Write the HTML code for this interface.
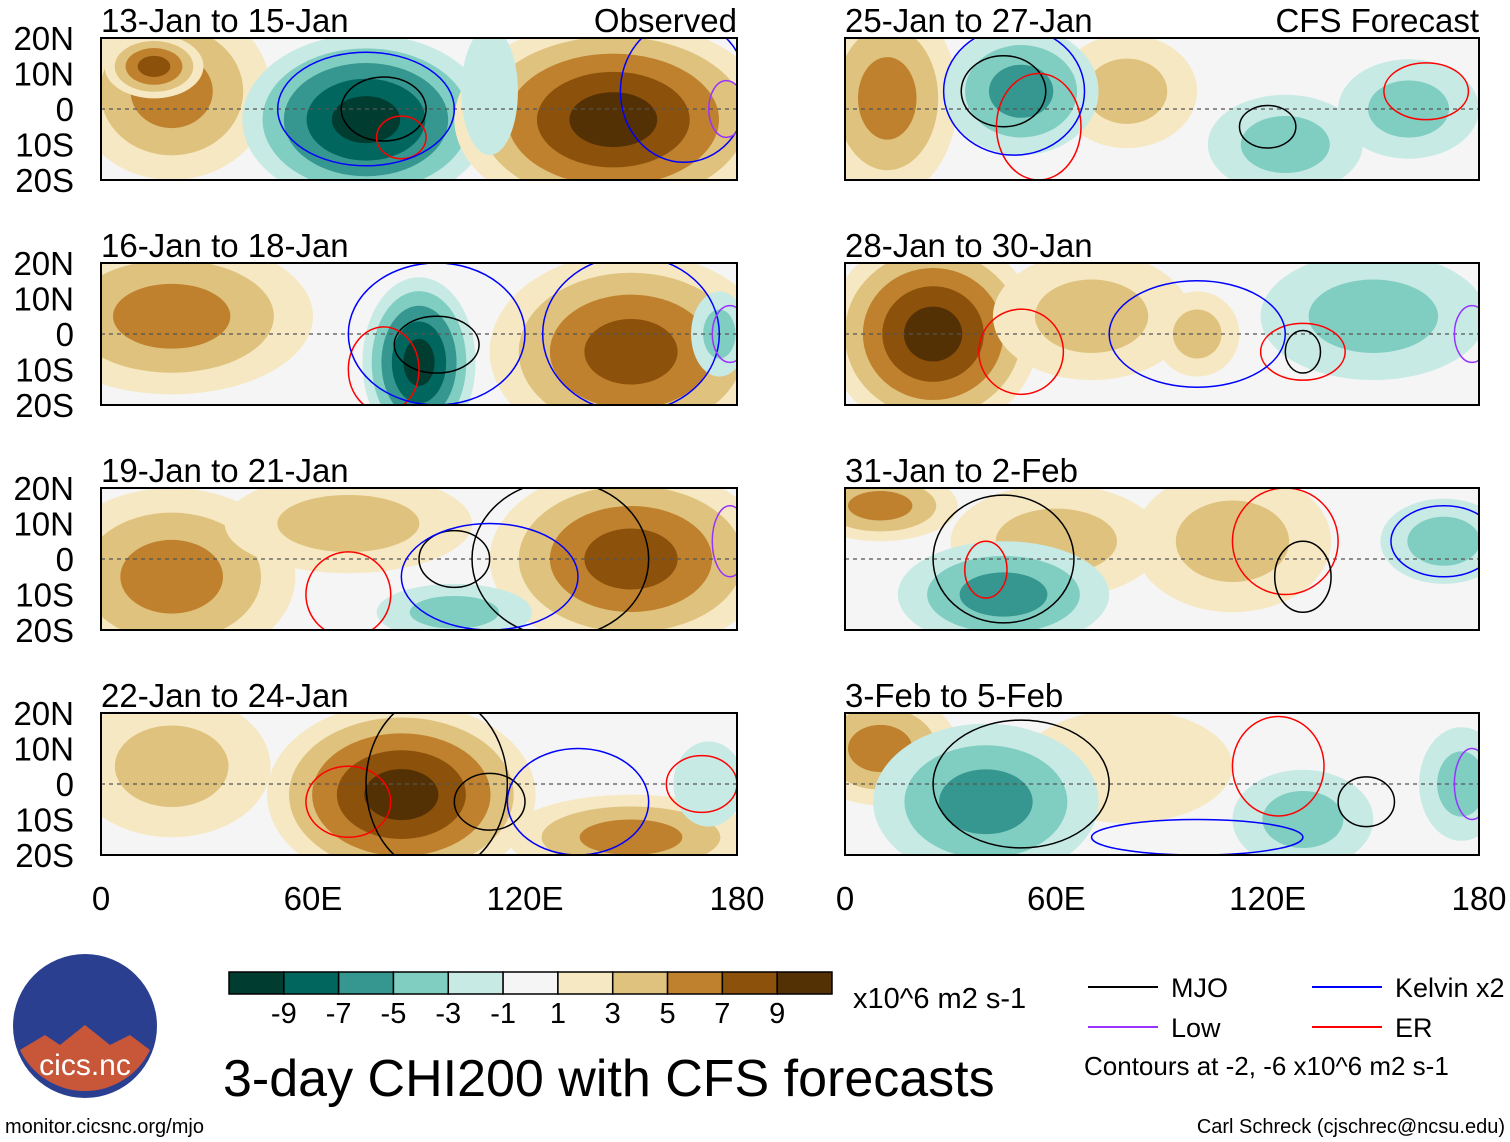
<!DOCTYPE html>
<html><head><meta charset="utf-8">
<style>
body{margin:0;background:#fff;font-family:"Liberation Sans",sans-serif;}
svg{display:block}
</style></head>
<body>
<svg id="fig" width="1510" height="1142" viewBox="0 0 1510 1142" xmlns="http://www.w3.org/2000/svg">
</svg>
<script>
const NS="http://www.w3.org/2000/svg";
const svg=document.getElementById('fig');
const levels=[-9,-7,-5,-3,-1,1,3,5,7,9];
const colors=['#003c30','#01665e','#35978f','#80cdc1','#c7eae5','#f5f5f5','#f6e8c3','#dfc27d','#bf812d','#8c510a','#543005'];
const titles=['13-Jan to 15-Jan','16-Jan to 18-Jan','19-Jan to 21-Jan','22-Jan to 24-Jan','25-Jan to 27-Jan','28-Jan to 30-Jan','31-Jan to 2-Feb','3-Feb to 5-Feb'];
const latTicks=['20N','10N','0','10S','20S'];
const lonTicks=['0','60E','120E','180'];
// blobs: [lon, lat, rx(deg), ry(deg), peak value]
const blobs=[
 [[20,5,28,25,5],[15,12,14,9,7],[75,-3,35,24,-9],[145,-3,45,28,9],[110,5,8,18,-1]],
 [[20,5,40,22,5],[150,-5,40,28,7],[90,-8,16,24,-9],[175,0,8,12,-3]],
 [[20,-5,35,25,5],[70,10,35,14,3],[150,0,40,26,7],[100,-15,22,8,-3]],
 [[20,5,28,20,3],[85,-3,38,26,9],[150,-15,35,12,5],[172,0,10,12,-1]],
 [[12,3,20,28,5],[80,5,20,16,3],[50,5,22,18,-5],[125,-10,22,14,-3],[160,0,20,14,-3]],
 [[25,0,30,28,9],[70,5,28,18,3],[100,0,12,12,3],[150,5,32,18,-3]],
 [[10,15,22,10,5],[60,5,30,16,3],[110,5,28,20,3],[45,-10,30,15,-5],[170,5,18,12,-3]],
 [[10,10,22,16,5],[80,5,30,16,1],[40,-5,32,22,-5],[130,-10,20,14,-3],[175,0,12,16,-3]]
];
// contours: [lon, lat, rx, ry, type]
const contours=[
 [[80,0,12,9,'k'],[85,-8,7,6,'r'],[75,0,25,16,'b'],[165,5,18,20,'b'],[177,0,5,8,'p']],
 [[95,-3,12,8,'k'],[80,-10,10,12,'r'],[95,0,25,20,'b'],[150,0,25,22,'b'],[178,0,5,8,'p']],
 [[100,0,10,8,'k'],[70,-10,12,12,'r'],[130,0,25,22,'k'],[110,-5,25,15,'b'],[178,5,5,10,'p']],
 [[110,-5,10,8,'k'],[70,-5,12,10,'r'],[170,0,10,8,'r'],[95,0,20,25,'k'],[135,-5,20,15,'b']],
 [[45,5,12,10,'k'],[55,-5,12,15,'r'],[165,5,12,8,'r'],[48,5,20,18,'b'],[120,-5,8,6,'k']],
 [[50,-5,12,12,'r'],[130,-5,12,8,'r'],[130,-5,5,6,'k'],[100,0,25,15,'b'],[178,0,5,8,'p']],
 [[45,0,20,18,'k'],[125,5,15,15,'r'],[130,-5,8,10,'k'],[170,5,15,10,'b'],[40,-3,6,8,'r']],
 [[50,0,25,18,'k'],[123,5,13,14,'r'],[148,-5,8,7,'k'],[100,-15,30,5,'b'],[178,0,5,10,'p']]
];
const cmap={k:'#000',b:'#0000ff',r:'#ff0000',p:'#9933ff'};
function el(tag,attrs,parent){const e=document.createElementNS(NS,tag);for(const k in attrs)e.setAttribute(k,attrs[k]);(parent||svg).appendChild(e);return e;}
function colorFor(v){let i=0;while(i<levels.length&&v>levels[i])i++;return colors[i];}
const panels=[];
for(let i=0;i<8;i++){
 const col=i<4?0:1,row=i%4;
 const x0=col?845:101,x1=col?1479:737,y0=38+row*225,y1=y0+142;
 panels.push({x0,x1,y0,y1});
}
const X=(p,lon)=>p.x0+lon*(p.x1-p.x0)/180;
const Y=(p,lat)=>p.y0+(20-lat)*(p.y1-p.y0)/40;
panels.forEach((p,i)=>{
 const g=el('g',{});
 
 
 const cid='clip'+i;
 const cp=el('clipPath',{id:cid},g);el('rect',{x:p.x0,y:p.y0,width:p.x1-p.x0,height:p.y1-p.y0},cp);
 const f=el('g',{'clip-path':'url(#'+cid+')'},g);
 el('rect',{x:p.x0,y:p.y0,width:p.x1-p.x0,height:p.y1-p.y0,fill:'#f5f5f5'},f);
 const sx=(p.x1-p.x0)/180,sy=(p.y1-p.y0)/40;
 blobs[i].forEach(b=>{
  const [lon,lat,rx,ry,v]=b;const s=Math.sign(v),n=Math.abs(v);
  for(let lv=1;lv<=n;lv+=2){
   const k=Math.pow(1-(lv-1)/(n+1),0.8);
   const e=el('ellipse',{cx:X(p,lon),cy:Y(p,lat),rx:rx*sx*k,ry:ry*sy*k,fill:colorFor(s*(lv+0.5))},f);
   
   
  }
 });
 el('line',{x1:p.x0,x2:p.x1,y1:Y(p,0),y2:Y(p,0),stroke:'#555','stroke-dasharray':'4,4','stroke-width':1.2},f);
 contours[i].forEach(c=>{
  const e=el('ellipse',{cx:X(p,c[0]),cy:Y(p,c[1]),rx:c[2]*sx,ry:c[3]*sy,fill:'none',stroke:cmap[c[4]],'stroke-width':1.5},f);
  
  
 });
 el('rect',{x:p.x0,y:p.y0,width:p.x1-p.x0,height:p.y1-p.y0,fill:'none',stroke:'#000','stroke-width':2},g);
 const t=el('text',{x:p.x0,y:p.y0-6,'font-size':33},g);t.textContent=titles[i];
 
 if(i==0||i==4){const t2=el('text',{x:p.x1,y:p.y0-6,'font-size':33,'text-anchor':'end'},g);t2.textContent=i==0?'Observed':'CFS Forecast';
  }
 if(i<4){latTicks.forEach((l,j)=>{const t=el('text',{x:74,y:p.y0+j*35.5+12,'font-size':33,'text-anchor':'end'},g);t.textContent=l;
  });}
 if(i%4==3){lonTicks.forEach((l,j)=>{const t=el('text',{x:p.x0+j*(p.x1-p.x0)/3,y:910,'font-size':33,'text-anchor':'middle'},g);t.textContent=l;
  });}
});
// colorbar
const cb=el('g',{});
const bw=(832-229)/11;
colors.forEach((c,j)=>el('rect',{x:229+j*bw,y:972,width:bw,height:22,fill:c,stroke:'#000','stroke-width':1.5},cb));
levels.forEach((l,j)=>{const t=el('text',{x:229+(j+1)*bw,y:1023,'font-size':29,'text-anchor':'middle'},cb);t.textContent=l;});
const u=el('text',{x:853,y:1008,'font-size':29},cb);u.textContent='x10^6 m2 s-1';
const ti=el('text',{x:223,y:1096,'font-size':52},svg);ti.textContent='3-day CHI200 with CFS forecasts';

// legend
const lg=el('g',{});
[[1088,987,'#000','MJO'],[1312,987,'#0000ff','Kelvin x2'],[1088,1027,'#9933ff','Low'],[1312,1027,'#ff0000','ER']].forEach(a=>{
 el('line',{x1:a[0],x2:a[0]+70,y1:a[1],y2:a[1],stroke:a[2],'stroke-width':2},lg);
 const t=el('text',{x:a[0]+83,y:a[1]+10,'font-size':27},lg);t.textContent=a[3];});
const lc=el('text',{x:1084,y:1075,'font-size':26},lg);lc.textContent='Contours at -2, -6 x10^6 m2 s-1';
// logo
const lo=el('g',{});
el('circle',{cx:85,cy:1026,r:72,fill:'#2a3f8f'},lo);
el('path',{d:'M20 1050 L45 1035 L60 1045 L85 1025 L110 1045 L130 1035 L150 1050 A72 72 0 0 1 20 1050Z',fill:'#c8573a'},lo);
const lt=el('text',{x:85,y:1075,'font-size':30,fill:'#fff','text-anchor':'middle'},lo);lt.textContent='cics.nc';
const f1=el('text',{x:5,y:1133,'font-size':20},svg);f1.textContent='monitor.cicsnc.org/mjo';

const f2=el('text',{x:1505,y:1133,'font-size':20,'text-anchor':'end'},svg);f2.textContent='Carl Schreck (cjschrec@ncsu.edu)';

</script>
</body></html>
